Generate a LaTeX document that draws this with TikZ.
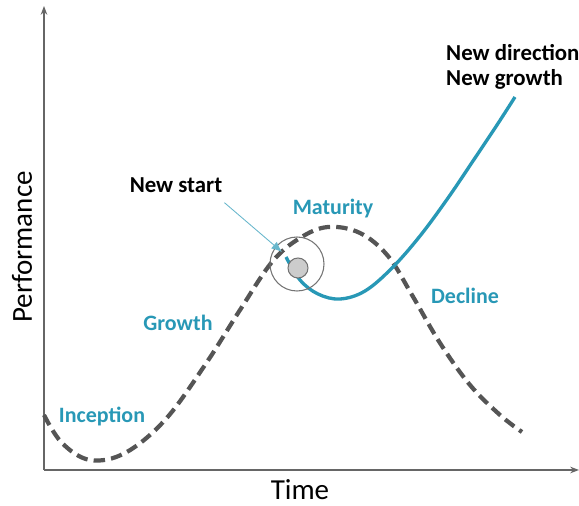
\documentclass[tikz,border=0pt]{standalone}
\usepackage{fontspec}
\setmainfont{Carlito}
\usetikzlibrary{arrows.meta}
\definecolor{teal1}{RGB}{40,152,182}
\definecolor{dashgray}{RGB}{85,85,85}
\tikzset{
  stagelabel/.style={font=\bfseries\fontsize{12.5}{14}\selectfont, text=teal1},
  blacklabel/.style={font=\bfseries\fontsize{13}{16}\selectfont, align=left},
  axislabel/.style={font=\fontsize{16.5}{19}\selectfont},
}
\begin{document}
\begin{tikzpicture}[x=0.02cm, y=-0.02cm]
    \useasboundingbox (0,0) rectangle (579,506);
    % axes
    \draw[gray!80!black, line width=0.8pt, -{Stealth[length=5pt]}] (44,470) -- (579,470);
    \draw[gray!80!black, line width=0.8pt, -{Stealth[length=5pt]}] (44,470) -- (44,6);
    \node[axislabel] (time) at (300,490) {Time};
    \node[axislabel, rotate=90] (perf) at (22,247) {Performance};
    % old life cycle
    \draw[dashgray, line width=2.4pt, dash pattern=on 6.5pt off 3.5pt]
      plot[smooth, tension=0.6] coordinates
      {(44,415) (62,443) (90,460) (125,453) (165,420) (205,365)
       (240,310) (272,262) (300,238) (328,227) (360,233) (388,256)
       (412,295) (440,343) (470,385) (500,415) (522,432)};
    % new curve
    \draw[teal1, line width=1.9pt]
      plot[smooth, tension=0.6] coordinates
      {(286,257) (300,280) (318,294) (340,299) (365,291) (392,268)
       (420,236) (448,198) (475,158) (497,125) (515,97)};
    % restart point
    \draw[gray!90!black, line width=0.6pt] (297,264) circle[radius=27];
    \fill[gray!40, draw=gray!90!black, line width=0.6pt] (298,268) circle[radius=10];
    \coordinate (hit) at (282,252);
    % labels
    \node[blacklabel] (start) at (176,185) {New start};
    \draw[teal1!70, line width=0.5pt, -{Latex[length=6pt, width=5pt]}] (start.south east) ++(-4,4) -- (hit);
    \node[stagelabel] (mat) at (333,209) {Maturity};
    \node[stagelabel] (grow) at (178,323) {Growth};
    \node[stagelabel] (inc) at (102,417) {Inception};
    \node[stagelabel] (dec) at (465,296) {Decline};
    \node[blacklabel, anchor=west] (newdir) at (440,53) {New direction};
    \node[blacklabel, anchor=west] (newgr) at (440,79) {New growth};
  \end{tikzpicture}
\end{document}
